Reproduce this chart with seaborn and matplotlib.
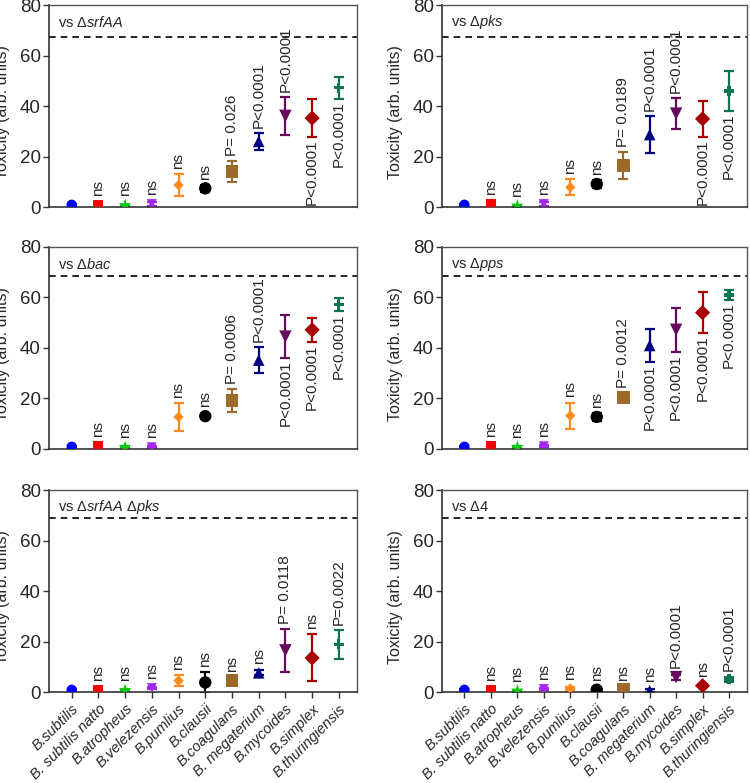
import numpy as np
import pandas as pd
import matplotlib
matplotlib.use('Agg')
import matplotlib.pyplot as plt
import seaborn as sns

# Strains on the x axis
strains = ['B.subtilis', 'B. subtilis natto', 'B.atropheus', 'B.velezensis',
           'B.pumlius', 'B.clausii', 'B.coagulans', 'B. megaterium',
           'B.mycoides', 'B.simplex', 'B.thuringiensis']

# vs srfAA
mean_srfaa = [0.9, 1.0, 0.7, 1.2, 8.7, 7.4, 14.2, 26.0, 36.1, 35.2, 47.2]
sd_srfaa = [0.3, 0.3, 0.3, 0.6, 4.5, 1.5, 4.2, 3.4, 7.4, 7.6, 4.3]
p_srfaa = ['', 'ns', 'ns', 'ns', 'ns', 'ns', 'P= 0.026', 'P<0.0001',
           'P<0.0001', 'P<0.0001', 'P<0.0001']
ref_srfaa = 67.2

# vs pks
mean_pks = [0.9, 1.2, 0.5, 1.2, 7.8, 9.1, 16.3, 28.7, 37.0, 34.9, 45.9]
sd_pks = [0.3, 0.3, 0.3, 0.6, 3.2, 1.5, 5.3, 7.3, 6.0, 7.0, 7.9]
p_pks = ['', 'ns', 'ns', 'ns', 'ns', 'ns', 'P= 0.0189', 'P<0.0001',
         'P<0.0001', 'P<0.0001', 'P<0.0001']
ref_pks = 67.5

# vs bac
mean_bac = [0.9, 1.1, 0.7, 0.7, 12.7, 13.0, 19.2, 35.2, 44.5, 47.2, 57.1]
sd_bac = [0.3, 0.3, 0.3, 0.5, 5.6, 0.5, 4.7, 5.0, 8.5, 4.8, 2.5]
p_bac = ['', 'ns', 'ns', 'ns', 'ns', 'ns', 'P= 0.0006', 'P<0.0001',
         'P<0.0001', 'P<0.0001', 'P<0.0001']
ref_bac = 68.4

# vs pps
mean_pps = [0.9, 1.1, 0.7, 1.1, 13.2, 12.7, 20.5, 41.0, 47.2, 54.0, 61.0]
sd_pps = [0.3, 0.3, 0.3, 0.5, 5.2, 1.5, 1.5, 6.5, 8.6, 8.1, 2.0]
p_pps = ['', 'ns', 'ns', 'ns', 'ns', 'ns', 'P= 0.0012', 'P<0.0001',
         'P<0.0001', 'P<0.0001', 'P<0.0001']
ref_pps = 68.6

# vs srfAA pks
mean_sp = [0.9, 1.0, 0.7, 1.6, 4.5, 3.8, 4.6, 7.6, 16.5, 13.5, 18.9]
sd_sp = [0.3, 0.3, 0.3, 0.5, 2.2, 4.1, 1.0, 1.0, 8.4, 9.3, 5.7]
p_sp = ['', 'ns', 'ns', 'ns', 'ns', 'ns', 'ns', 'ns',
        'P= 0.0118', 'ns', 'P=0.0022']
ref_sp = 68.9

# vs delta4
mean_d4 = [0.9, 0.9, 0.5, 1.2, 1.4, 0.9, 0.9, 0.5, 5.9, 2.5, 5.0]
sd_d4 = [0.3, 0.3, 0.3, 0.5, 0.5, 0.5, 0.5, 0.5, 1.0, 0.5, 1.0]
p_d4 = ['', 'ns', 'ns', 'ns', 'ns', 'ns', 'ns', 'ns',
        'P<0.0001', 'ns', 'P<0.0001']
ref_d4 = 69.0

colors = ['#0000FF', '#FF0000', '#11C611', '#A526F0', '#FF8A1C', '#000000',
          '#9C6A2A', '#00007F', '#650A5C', '#A80000', '#0E7550']
markers = ['o', 's', '*', 'v', 'D', 'o', 's', '^', 'v', 'D', 'P']
msizes = [55, 50, 95, 50, 28, 80, 85, 70, 80, 60, 50]

sns.set_theme(style='ticks')
plt.rcParams['font.family'] = ['Liberation Sans', 'DejaVu Sans']
plt.rcParams['mathtext.fontset'] = 'custom'
plt.rcParams['mathtext.rm'] = 'Liberation Sans'
plt.rcParams['mathtext.it'] = 'Liberation Sans:italic'

panels = [
    (r'vs $\Delta\mathit{srfAA}$', mean_srfaa, sd_srfaa, p_srfaa, ref_srfaa, [9, 10]),
    (r'vs $\Delta\mathit{pks}$', mean_pks, sd_pks, p_pks, ref_pks, [9, 10]),
    (r'vs $\Delta\mathit{bac}$', mean_bac, sd_bac, p_bac, ref_bac, [8, 9, 10]),
    (r'vs $\Delta\mathit{pps}$', mean_pps, sd_pps, p_pps, ref_pps, [7, 8, 9, 10]),
    (r'vs $\Delta\mathit{srfAA}$ $\Delta\mathit{pks}$', mean_sp, sd_sp, p_sp, ref_sp, []),
    (r'vs $\Delta$4', mean_d4, sd_d4, p_d4, ref_d4, []),
]

fig = plt.figure(figsize=(7.5, 7.83), dpi=100)
lefts = [0.0653, 0.5893]
widths = [0.4107, 0.4067]
bottoms = [0.7356, 0.4266, 0.1162]
height = 0.258

for k, (title, mean, sd, ptxt, ref, below) in enumerate(panels):
    row, col = divmod(k, 2)
    ax = fig.add_axes([lefts[col], bottoms[row], widths[col], height])
    df = pd.DataFrame({'strain': strains, 'pos': np.arange(len(strains)),
                       'mean': mean, 'sd': sd})

    for i, r in df.iterrows():
        ax.errorbar(r['pos'], r['mean'], yerr=r['sd'], fmt='none',
                    ecolor=colors[i], elinewidth=1.6, capsize=3.5,
                    capthick=1.6, zorder=2)
    sns.scatterplot(data=df, x='pos', y='mean', hue='strain', style='strain',
                    size='strain', palette=dict(zip(strains, colors)),
                    markers=dict(zip(strains, markers)),
                    sizes=dict(zip(strains, msizes)),
                    edgecolor='none', linewidth=0, legend=False, ax=ax,
                    zorder=3)

    ax.axhline(ref, color='black', ls='--', lw=1.2, dashes=(4, 3), zorder=1)

    for i in range(len(strains)):
        if not ptxt[i]:
            continue
        if i in below:
            ax.text(i, mean[i] - sd[i] - 1.0, ptxt[i], rotation=90,
                    ha='center', va='top', fontsize=11)
        else:
            top = max(mean[i] + sd[i], mean[i] + 1.5)
            ax.text(i, top + 2.0, ptxt[i], rotation=90,
                    ha='center', va='bottom', fontsize=11)

    ax.text(0.03, 0.915, title, transform=ax.transAxes, ha='left',
            va='center', fontsize=10.5)

    ax.set_xlim(-0.85, 10.68)
    ax.set_ylim(0, 80)
    ax.set_yticks([0, 20, 40, 60, 80])
    ax.set_xticks(np.arange(len(strains)))
    ax.set_xlabel('')
    ax.set_ylabel('Toxicity (arb. units)', fontsize=11.5)
    ax.yaxis.set_label_coords(-0.128, 0.47)
    ax.tick_params(axis='y', labelsize=13.5, length=4, width=1,
                   color='#333333', pad=2)
    if row == 2:
        ax.set_xticklabels(strains, rotation=45, ha='right',
                           rotation_mode='anchor', fontsize=10.5,
                           fontstyle='italic')
        ax.tick_params(axis='x', length=4, width=1, color='#333333', pad=3)
    else:
        ax.set_xticklabels([])
        ax.tick_params(axis='x', length=0)
    for name, sp in ax.spines.items():
        sp.set_visible(True)
        sp.set_color('#555555' if name in ('top', 'right') else '#333333')
        sp.set_linewidth(1.0 if name in ('top', 'right') else 1.2)

fig.savefig('out.png', dpi=100)
